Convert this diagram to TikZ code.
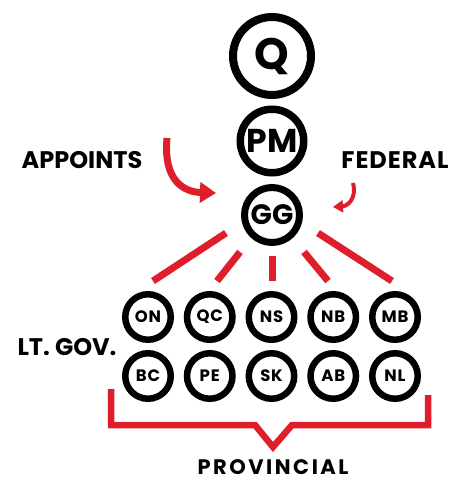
\documentclass[tikz,border=0pt]{standalone}
\usepackage{fontspec}
\setmainfont{Poppins}
\usepackage{tikz}
\usetikzlibrary{arrows.meta}

\definecolor{govred}{RGB}{222,30,42}
\tikzset{
  ring/.style={circle, draw=black, inner sep=0pt, font=\bfseries},
  prov/.style={ring, line width=6.5pt, minimum size=45.5pt, font=\bfseries\fontsize{16.5}{16.5}\selectfont\addfontfeature{LetterSpace=5}},
  redline/.style={draw=govred, line width=7pt},
  label/.style={font=\bfseries\fontsize{24}{24}\selectfont}
}

\begin{document}
\begin{tikzpicture}[x=1pt, y=-1pt, node distance=61.75pt]
\useasboundingbox (0,0) rectangle (466,482);
% federal chain
\node [ring, line width=8pt, minimum size=78pt, font=\bfseries\fontsize{44}{44}\selectfont] (q) at (272,56) {Q};
\node [ring, line width=7.5pt, minimum size=63.5pt, font=\bfseries\fontsize{33}{33}\selectfont] (pm) at (272,141) {PM};
\node [ring, line width=7pt, minimum size=55pt, font=\bfseries\fontsize{28}{28}\selectfont] (gg) at (272,215) {GG};
% provinces
\node [prov] (on) at (148,317) {ON};
\node [prov, right of=on] (qc) {QC};
\node [prov, right of=qc] (ns) {NS};
\node [prov, right of=ns] (nb) {NB};
\node [prov, right of=nb] (mb) {MB};
\node [prov, below of=on, node distance=59pt] (bc) {BC};
\node [prov, right of=bc] (pe) {PE};
\node [prov, right of=pe] (sk) {SK};
\node [prov, right of=sk] (ab) {AB};
\node [prov, right of=ab] (nl) {NL};
% labels
\node [label] (appoints) at (82,160) {APPOINTS};
\node [label, font=\bfseries\fontsize{24}{24}\selectfont\addfontfeature{LetterSpace=4}] (federal) at (395,160) {FEDERAL};
\node [label] (ltgov) at (67,347) {LT. GOV.};
\node [inner sep=0pt, font=\bfseries\fontsize{21}{21}\selectfont\addfontfeature{LetterSpace=12}] (provincial) at (273,467) {PROVINCIAL};
% ends of the red strokes
\coordinate (s1) at (226,233); \coordinate (e1) at (153,281);
\coordinate (s2) at (240,252); \coordinate (e2) at (217,281);
\coordinate (s3) at (272,256); \coordinate (e3) at (272,281);
\coordinate (s4) at (304,252); \coordinate (e4) at (328,281);
\coordinate (s5) at (318,233); \coordinate (e5) at (392,281);
\path[redline] (s1) edge (e1)
               (s2) edge (e2)
               (s3) edge (e3)
               (s4) edge (e4)
               (s5) edge (e5);
% bracket
\draw [govred, line width=6.5pt, miter limit=10]
  (111,389) -- (111,425) -- (255,425) -- (273,447) -- (292,425) -- (428,425) -- (428,395);
% arrows
\coordinate (a1) at (167,138); \coordinate (a2) at (216,193);
\coordinate (f1) at (353,183); \coordinate (f2) at (333,207);
\draw [govred, line width=7pt, -{Triangle[length=16pt, width=20pt]}]
  (a1) .. controls (163,182) and (185,192) .. (a2);
\draw [govred, line width=4pt, -{Triangle[length=10pt, width=12pt]}]
  (f1) .. controls (357,198) and (348,206) .. (f2);
\end{tikzpicture}
\end{document}
